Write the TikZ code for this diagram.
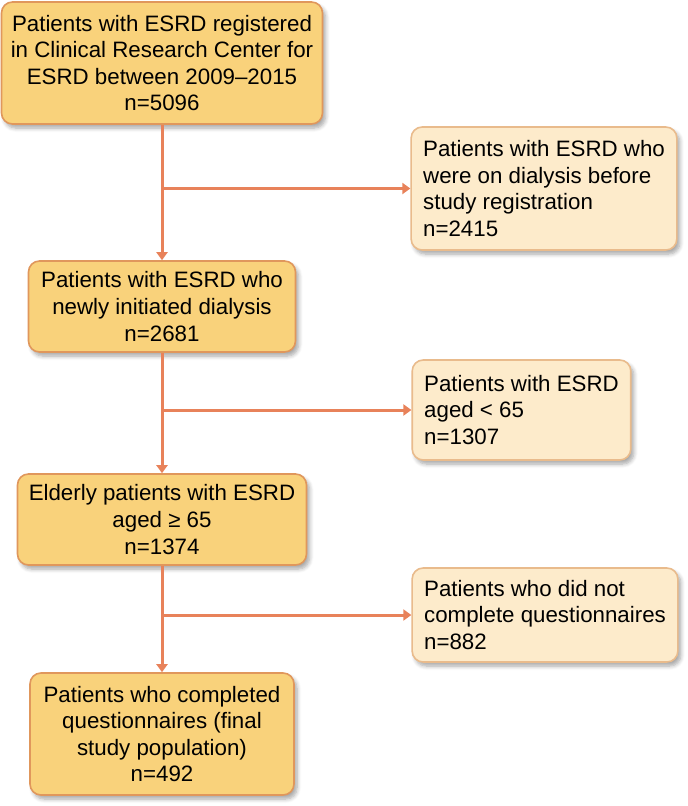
\documentclass[tikz,border=0pt]{standalone}
\usepackage{fontspec}
\setmainfont{Liberation Sans}
\usetikzlibrary{arrows.meta,shadows.blur}

\definecolor{mainfill}{HTML}{F9D27B}
\definecolor{mainline}{HTML}{E0975C}
\definecolor{sidefill}{HTML}{FDEBCB}
\definecolor{sideline}{HTML}{E9BB8C}
\definecolor{flowline}{HTML}{E8825A}

\begin{document}
\begin{tikzpicture}[x=1pt, y=-1pt,
    box/.style={rounded corners=11pt, line width=1.6pt, inner xsep=6pt, inner ysep=0pt,
        font=\fontsize{22.3}{26.6}\selectfont,
        blur shadow={shadow xshift=3pt, shadow yshift=-4pt, shadow blur radius=4pt,
            shadow blur steps=6, shadow opacity=35}},
    mainbox/.style={box, draw=mainline, fill=mainfill, align=center},
    sidebox/.style={box, draw=sideline, fill=sidefill, align=left, inner xsep=12pt},
    flow/.style={draw=flowline, line width=3pt, -{Triangle[width=11pt,length=8pt]}}]

    % --- page frame ---
    \useasboundingbox (0,0) rectangle (688,806);

    % --- main column ---
    \node[mainbox, minimum width=321pt, minimum height=122pt] (reg) at (162,63)
        {Patients with ESRD registered\\in Clinical Research Center for\\ESRD between 2009--2015\\n=5096};
    \node[mainbox, minimum width=267pt, minimum height=91pt] (newdia) at (162,306.5)
        {Patients with ESRD who\\newly initiated dialysis\\n=2681};
    \node[mainbox, minimum width=289pt, minimum height=91pt] (elder) at (162,519.5)
        {Elderly patients with ESRD\\aged ≥ 65\\n=1374};
    \node[mainbox, minimum width=264pt, minimum height=122pt] (final) at (162,734)
        {Patients who completed\\questionnaires (final\\study population)\\n=492};

    % --- excluded patients ---
    \node[sidebox, minimum width=262pt, minimum height=123pt] (prior) at (544,188.5)
        {Patients with ESRD who\\were on dialysis before\\study registration\\n=2415};
    \node[sidebox, minimum width=217pt, minimum height=100pt] (young) at (521.5,410)
        {Patients with ESRD\\aged < 65\\n=1307};
    \node[sidebox, minimum width=264pt, minimum height=94pt] (noq) at (545,615)
        {Patients who did not\\complete questionnaires\\n=882};

    % --- branch points ---
    \coordinate (b1) at (reg.south |- prior.west);
    \coordinate (b2) at (newdia.south |- young.west);
    \coordinate (b3) at (elder.south |- noq.west);

    % --- connectors ---
    \draw[flow] (reg.south) -- (newdia.north);
    \draw[flow] (newdia.south) -- (elder.north);
    \draw[flow] (elder.south) -- (final.north);
    \draw[flow] (b1) -- (prior.west);
    \draw[flow] (b2) -- (young.west);
    \draw[flow] (b3) -- (noq.west);

\end{tikzpicture}
\end{document}
